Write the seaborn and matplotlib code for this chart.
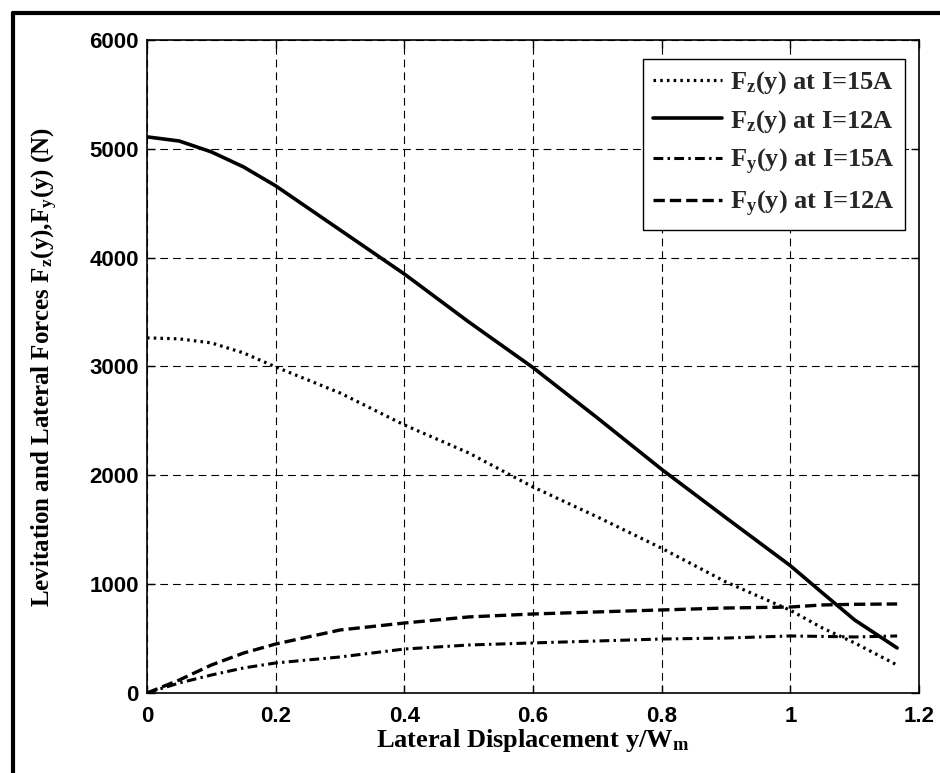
import matplotlib
matplotlib.use("Agg")
import matplotlib.pyplot as plt
import seaborn as sns
import pandas as pd
from matplotlib.lines import Line2D

# ---- data ----
disp = [0, 0.05, 0.1, 0.15, 0.2, 0.3, 0.4, 0.5, 0.6, 0.7, 0.8, 0.9, 1.0, 1.05, 1.1, 1.166]
fz_15 = [3263, 3254, 3217, 3125, 2996, 2757, 2463, 2206, 1893, 1618, 1330, 1020, 760, 597, 460, 257]
fz_12 = [5110, 5072, 4972, 4834, 4660, 4255, 3850, 3410, 2990, 2528, 2055, 1610, 1170, 919, 671, 414]
fy_15 = [0, 92, 165, 230, 276, 331, 404, 441, 460, 478, 496, 505, 524, 520, 515, 524]
fy_12 = [0, 119, 257, 367, 450, 579, 643, 699, 726, 745, 763, 781, 790, 809, 815, 818]

labels = [r'F$_{\rm z}$(y) at I=15A', r'F$_{\rm z}$(y) at I=12A',
          r'F$_{\rm y}$(y) at I=15A', r'F$_{\rm y}$(y) at I=12A']
xticks = [0, 0.2, 0.4, 0.6, 0.8, 1, 1.2]
xtick_labels = ['0', '0.2', '0.4', '0.6', '0.8', '1', '1.2']
yticks = [0, 1000, 2000, 3000, 4000, 5000, 6000]

sns.set_theme(style="white")
plt.rcParams['font.family'] = ['Liberation Serif', 'DejaVu Serif']
plt.rcParams['mathtext.fontset'] = 'custom'
plt.rcParams['mathtext.rm'] = 'Liberation Serif:bold'
plt.rcParams['mathtext.it'] = 'Liberation Serif:bold'
plt.rcParams['mathtext.bf'] = 'Liberation Serif:bold'

fig = plt.figure(figsize=(9.4, 7.73), dpi=100)
fig.patch.set_facecolor('white')
ax = fig.add_axes([147/940, 1-693/773, (919-147)/940, (693-40)/773])
ax.set_facecolor('white')

series = [fz_15, fz_12, fy_15, fy_12]
styles = [(0, (0.8, 1.3)), '-', (0, (3.2, 1.4, 0.8, 1.4)), (0, (3.4, 1.5))]
widths = [2.3, 2.6, 2.2, 2.4]
for vals, lab, ls, lw in zip(series, labels, styles, widths):
    df = pd.DataFrame({'x': disp, 'y': vals})
    sns.lineplot(data=df, x='x', y='y', ax=ax, color='black', linestyle=ls,
                 linewidth=lw, label=lab, sort=False)

ax.set_xlim(0, 1.2)
ax.set_ylim(0, 6000)
ax.set_xticks(xticks)
ax.set_xticklabels(xtick_labels)
ax.set_yticks(yticks)
ax.set_yticklabels([str(v) for v in yticks])
for t in ax.get_xticklabels() + ax.get_yticklabels():
    t.set_fontfamily('Liberation Sans')
    t.set_fontweight('bold')
    t.set_fontsize(16)
    t.set_color('black')

ax.grid(True, color='black', linestyle=(0, (7, 4.5)), linewidth=0.8)
ax.tick_params(axis='both', direction='in', length=6, width=1, colors='black',
               top=True, right=True, bottom=True, left=True)
ax.tick_params(axis='x', pad=9)
ax.tick_params(axis='y', pad=6)
for s in ax.spines.values():
    s.set_color('black')
    s.set_linewidth(1.2)
    s.set_visible(True)

ax.set_xlabel('Lateral Displacement y/W$_{\\rm m}$', fontsize=19, fontweight='bold', color='black')
ax.set_ylabel('Levitation and Lateral Forces F$_{\\rm z}$(y),F$_{\\rm y}$(y) (N)',
              fontsize=18, fontweight='bold', color='black')
ax.xaxis.set_label_coords(0.5, (693-727)/653)
ax.xaxis.label.set_va('top')
ax.yaxis.set_label_coords((60-147)/772, 0.5)

leg = ax.legend(loc='upper right', bbox_to_anchor=((905-147)/772, (693-59)/653),
                borderaxespad=0, frameon=True, fancybox=False, shadow=False,
                prop={'family': 'Liberation Serif', 'weight': 'bold', 'size': 19},
                handlelength=2.6, handletextpad=0.3, labelspacing=0.45,
                borderpad=0.4)
leg.get_frame().set_edgecolor('black')
leg.get_frame().set_linewidth(1.0)
leg.get_frame().set_facecolor('white')
leg.get_frame().set_alpha(1)

# outer frame (only the left and top edges are visible in the crop)
fig.add_artist(Line2D([13/940, 13/940], [0, 1-13/773], transform=fig.transFigure,
                      color='black', linewidth=3))
fig.add_artist(Line2D([13/940, 1], [1-13/773, 1-13/773], transform=fig.transFigure,
                      color='black', linewidth=3))

fig.savefig('out.png', dpi=100, facecolor='white')
